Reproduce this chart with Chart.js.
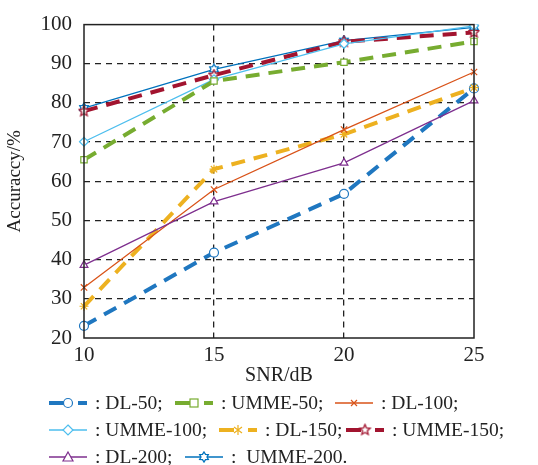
<!DOCTYPE html>
<html>
<head>
<meta charset="utf-8">
<script src="https://cdn.jsdelivr.net/npm/chart.js@4.4.1/dist/chart.umd.min.js"></script>
<style>
	html, body { margin: 0; padding: 0; background: #fff; }
	#wrap { position: relative; width: 538px; height: 465px; }
	#chart { position: absolute; left: 0; top: 0; }
	.item { position: absolute; height: 24px; display: flex; align-items: center;
		font-family: 'Liberation Serif', serif; font-size: 19.5px; color: #222; white-space: pre; }
	.item svg { margin-right: 6px; }
</style>
</head>
<body>
<div id="wrap">
	<canvas id="chart" width="538" height="392"></canvas>
	<div id="legend"></div>
</div>
<script>
// SNR values on the x axis
const snr = ['10', '15', '20', '25'];

// accuracy (%) per method
const dl50 = [23.1, 41.8, 56.8, 83.7];
const umme50 = [65.5, 85.6, 90.4, 95.7];
const dl100 = [32.9, 57.9, 73.2, 87.9];
const umme100 = [70.1, 86.0, 95.1, 99.7];
const dl150 = [28.1, 63.1, 72.0, 83.9];
const umme150 = [77.9, 87.1, 95.6, 98.0];
const dl200 = [38.6, 54.8, 64.7, 80.6];
const umme200 = [78.7, 88.6, 95.9, 99.3];

const yTicks = [20, 30, 40, 50, 60, 70, 80, 90, 100];

// star-shaped markers drawn to small canvases
function starMarker(color, points, inner, size) {
	const c = document.createElement('canvas');
	c.width = size; c.height = size;
	const g = c.getContext('2d');
	const r = size / 2 - 1;
	g.beginPath();
	for (let i = 0; i < points * 2; i++) {
		const rad = i % 2 === 0 ? r : r * inner;
		const a = -Math.PI / 2 + i * Math.PI / points;
		const px = size / 2 + rad * Math.cos(a);
		const py = size / 2 + rad * Math.sin(a);
		if (i === 0) g.moveTo(px, py); else g.lineTo(px, py);
	}
	g.closePath();
	g.fillStyle = '#fff';
	g.fill();
	g.strokeStyle = color;
	g.lineWidth = 1.3;
	g.stroke();
	return c;
}

const series = [
	{ label: 'DL-200', data: dl200, color: '#7E2F8E', dash: [], width: 1.3, point: 'triangle' },
	{ label: 'DL-100', data: dl100, color: '#D95319', dash: [], width: 1.3, point: 'crossRot' },
	{ label: 'DL-150', data: dl150, color: '#EDB120', dash: [14, 9], width: 4, point: 'star' },
	{ label: 'UMME-50', data: umme50, color: '#77AC30', dash: [14, 9], width: 4, point: 'rect' },
	{ label: 'UMME-100', data: umme100, color: '#4DBEEE', dash: [], width: 1.3, point: 'rectRot' },
	{ label: 'UMME-150', data: umme150, color: '#A2142F', dash: [14, 9], width: 4, point: starMarker('#A2142F', 5, 0.45, 13) },
	{ label: 'UMME-200', data: umme200, color: '#0072BD', dash: [], width: 1.3, point: starMarker('#0072BD', 6, 0.6, 12) },
	{ label: 'DL-50', data: dl50, color: '#1F77C0', dash: [14, 9], width: 4, point: 'circle' },
];

// solid frame around the plot area
const frame = {
	id: 'frame',
	afterDatasetsDraw(chart) {
		const a = chart.chartArea;
		const ctx = chart.ctx;
		ctx.save();
		ctx.strokeStyle = '#222';
		ctx.lineWidth = 1.5;
		ctx.strokeRect(a.left, a.top, a.right - a.left, a.bottom - a.top);
		ctx.restore();
	}
};

const font = { family: 'Liberation Serif', size: 21 };

new Chart(document.getElementById('chart'), {
	type: 'line',
	data: {
		labels: snr,
		datasets: series.map((s) => ({
			label: s.label,
			data: s.data,
			borderColor: s.color,
			borderWidth: s.width,
			borderDash: s.dash,
			pointStyle: s.point,
			pointRadius: 4.5,
			pointBorderWidth: 1.2,
			pointBorderColor: s.color,
			pointBackgroundColor: '#fff',
			tension: 0,
		})),
	},
	options: {
		responsive: false,
		animation: false,
		layout: { padding: { left: 0, right: 64, top: 20, bottom: 0 } },
		plugins: { legend: { display: false }, tooltip: { enabled: false } },
		scales: {
			x: {
				offset: false,
				grid: {
					color: (c) => (c.index === 0 || c.index === snr.length - 1 ? 'rgba(0,0,0,0)' : '#222'),
					lineWidth: 1.3,
					drawTicks: false,
				},
				border: { display: false, dash: [6, 5] },
				ticks: { color: '#222', font: font, padding: 5, maxRotation: 0 },
				title: { display: true, text: 'SNR/dB', color: '#222', font: { family: 'Liberation Serif', size: 20 }, padding: { top: 2 } },
				afterFit: (scale) => { scale.height = 54; },
			},
			y: {
				min: 20,
				max: 100,
				afterBuildTicks: (scale) => { scale.ticks = yTicks.map((v) => ({ value: v })); },
				grid: {
					color: (c) => (c.tick && (c.tick.value === 20 || c.tick.value === 100) ? 'rgba(0,0,0,0)' : '#222'),
					lineWidth: 1.3,
					drawTicks: false,
				},
				border: { display: false, dash: [6, 5] },
				ticks: { color: '#222', font: font, padding: 12 },
				title: { display: true, text: 'Accuraccy/%', color: '#222', font: { family: 'Liberation Serif', size: 19 }, padding: { bottom: 4 } },
				afterFit: (scale) => { scale.width = 84; },
			},
		},
	},
	plugins: [frame],
});

// legend below the chart
const legendItems = [
	{ name: 'DL-50', text: ': DL-50;', x: 49, y: 403 },
	{ name: 'UMME-50', text: ': UMME-50;', x: 175, y: 403 },
	{ name: 'DL-100', text: ': DL-100;', x: 335, y: 403 },
	{ name: 'UMME-100', text: ': UMME-100;', x: 49, y: 430 },
	{ name: 'DL-150', text: ': DL-150;', x: 219, y: 430 },
	{ name: 'UMME-150', text: ': UMME-150;', x: 346, y: 430 },
	{ name: 'DL-200', text: ': DL-200;', x: 49, y: 457 },
	{ name: 'UMME-200', text: ':  UMME-200.', x: 185, y: 457 },
];

function markerSvg(point, color) {
	const st = `fill="#fff" stroke="${color}" stroke-width="1.2"`;
	const cx = 19, cy = 9;
	if (point === 'circle') return `<circle cx="${cx}" cy="${cy}" r="4.5" ${st}/>`;
	if (point === 'rect') return `<rect x="${cx - 4}" y="${cy - 4}" width="8" height="8" ${st}/>`;
	if (point === 'rectRot') return `<polygon points="${cx},${cy - 5} ${cx + 5},${cy} ${cx},${cy + 5} ${cx - 5},${cy}" ${st}/>`;
	if (point === 'triangle') return `<polygon points="${cx},${cy - 5} ${cx + 5},${cy + 4} ${cx - 5},${cy + 4}" ${st}/>`;
	if (point === 'crossRot') return `<path d="M${cx - 3} ${cy - 3}L${cx + 3} ${cy + 3}M${cx + 3} ${cy - 3}L${cx - 3} ${cy + 3}" ${st}/>`;
	if (point === 'star') return `<path d="M${cx} ${cy - 5}V${cy + 5}M${cx - 4} ${cy - 3}L${cx + 4} ${cy + 3}M${cx + 4} ${cy - 3}L${cx - 4} ${cy + 3}" ${st}/>`;
	return '';
}

const legend = document.getElementById('legend');
legendItems.forEach((it) => {
	const s = series.find((d) => d.label === it.name);
	let mark = '';
	if (typeof s.point === 'string') {
		mark = markerSvg(s.point, s.color);
	} else {
		mark = `<image href="${s.point.toDataURL()}" x="${19 - s.point.width / 2}" y="${9 - s.point.height / 2}" width="${s.point.width}" height="${s.point.height}"/>`;
	}
	const w = s.width;
	const line = s.dash.length
		? `<line x1="0" y1="9" x2="15" y2="9" stroke="${s.color}" stroke-width="${w}"/><line x1="29" y1="9" x2="38" y2="9" stroke="${s.color}" stroke-width="${w}"/>`
		: `<line x1="0" y1="9" x2="38" y2="9" stroke="${s.color}" stroke-width="${w}"/>`;
	const div = document.createElement('div');
	div.className = 'item';
	div.style.left = it.x + 'px';
	div.style.top = (it.y - 12) + 'px';
	div.innerHTML = `<svg width="40" height="18">${line}${mark}</svg>${it.text}`;
	legend.appendChild(div);
});
</script>
</body>
</html>
